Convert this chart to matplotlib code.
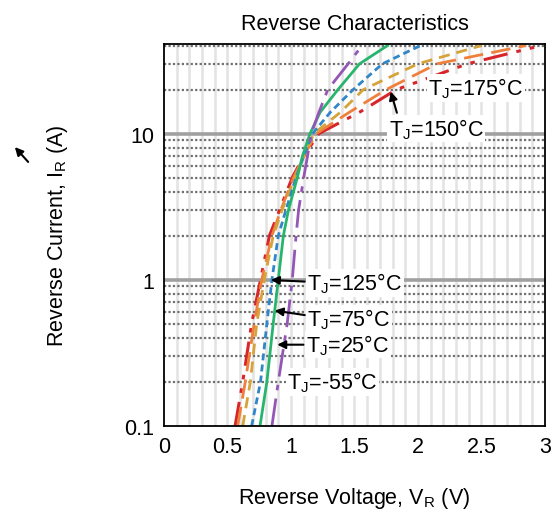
import numpy as np
import matplotlib
matplotlib.use("Agg")
import matplotlib.pyplot as plt

plt.rcParams['font.family'] = ['Liberation Sans', 'DejaVu Sans']
plt.rcParams['mathtext.fontset'] = 'custom'
plt.rcParams['mathtext.rm'] = 'Liberation Sans'

# Reverse current levels (A) at which the voltage of each curve was read
current = [0.1, 0.2, 0.5, 1, 2, 3, 5, 7, 10, 14, 20, 30, 40]

# Reverse voltage (V) for each junction temperature
v_175 = [0.56, 0.62, 0.69, 0.76, 0.83, 0.91, 1.01, 1.10, 1.22, 1.54, 1.83, 2.39, 2.97]
v_150 = [0.58, 0.64, 0.71, 0.77, 0.85, 0.92, 1.02, 1.10, 1.20, 1.46, 1.75, 2.15, 2.85]
v_125 = [0.62, 0.68, 0.73, 0.79, 0.86, 0.93, 1.03, 1.10, 1.18, 1.39, 1.57, 2.00, 2.50]
v_75 = [0.69, 0.76, 0.81, 0.85, 0.90, 0.96, 1.04, 1.10, 1.17, 1.31, 1.49, 1.72, 2.02]
v_25 = [0.756, 0.81, 0.86, 0.90, 0.94, 0.98, 1.05, 1.09, 1.15, 1.23, 1.37, 1.54, 1.76]
v_m55 = [0.85, 0.90, 0.97, 1.01, 1.04, 1.06, 1.10, 1.13, 1.16, 1.22, 1.29, 1.45, 1.56]

xticks = [0, 0.5, 1, 1.5, 2, 2.5, 3]
xticklabels = ['0', '0.5', '1', '1.5', '2', '2.5', '3']
yticks = [0.1, 1, 10]
yticklabels = ['0.1', '1', '10']

fig = plt.figure(figsize=(5.57, 5.10), dpi=100)
ax = fig.add_axes([0.2944, 0.1627, 0.684, 0.7491])

# grid: light verticals every 0.1 V, dotted minor horizontals, solid decades
for x in np.arange(0.1, 3.0, 0.1):
  ax.axvline(x, color='#e3e3e3', lw=1.8, zorder=0)
for dec in [0.1, 1, 10]:
  for m in range(2, 10):
    y = dec*m
    if y < 41:
      ax.axhline(y, color='#707070', lw=1.6, ls=(0, (1, 1)), zorder=1)
for y in [1, 10]:
  ax.axhline(y, color='#a0a0a0', lw=2.6, zorder=1)

ax.plot(v_175, current, color='#d7262b', lw=2.2, ls=(0, (8, 3, 1.5, 3, 1.5, 3)), zorder=3)
ax.plot(v_150, current, color='#f07f3c', lw=2.0, ls=(0, (7, 3)), zorder=3)
ax.plot(v_125, current, color='#d6a23a', lw=2.0, ls=(0, (4, 2.5)), zorder=3)
ax.plot(v_75, current, color='#2f86c8', lw=2.0, ls=(0, (2.5, 1.5)), zorder=3)
ax.plot(v_25, current, color='#27b56e', lw=2.0, ls='-', zorder=3)
ax.plot(v_m55, current, color='#9457b6', lw=2.0, ls=(0, (10, 3, 2, 3)), zorder=3)

ax.set_yscale('log')
ax.set_xlim(0, 3)
ax.set_ylim(0.1, 41)
ax.set_xticks(xticks)
ax.set_xticklabels(xticklabels)
ax.set_yticks(yticks)
ax.set_yticklabels(yticklabels)
ax.yaxis.set_minor_locator(matplotlib.ticker.NullLocator())
ax.tick_params(length=0, labelsize=15.5, pad=7)
for s in ax.spines.values():
  s.set_linewidth(1.3)
  s.set_zorder(5)

ax.set_title('Reverse Characteristics', fontsize=15.5, pad=11)
ax.set_xlabel(r'Reverse Voltage, V$_\mathregular{R}$ (V)', fontsize=15.5, labelpad=20)
ax.set_ylabel(r'Reverse Current, I$_\mathregular{R}$ (A)', fontsize=15.5, labelpad=39)

bbox = dict(facecolor='white', edgecolor='none', pad=1)
lab = dict(fontsize=15.5, va='center', ha='left', bbox=bbox, zorder=6)
ax.text(2.08, 20.5, r'T$_\mathregular{J}$=175°C', **lab)
ax.text(1.77, 10.8, r'T$_\mathregular{J}$=150°C', **lab)
ax.text(1.13, 0.95, r'T$_\mathregular{J}$=125°C', **lab)
ax.text(1.13, 0.54, r'T$_\mathregular{J}$=75°C', **lab)
ax.text(1.12, 0.36, r'T$_\mathregular{J}$=25°C', **lab)
ax.text(0.97, 0.2, r'T$_\mathregular{J}$=-55°C', **lab)

arr = dict(arrowstyle='-|>', color='black', lw=1.5, mutation_scale=12)
ax.annotate('', xy=(1.78, 20.2), xytext=(1.84, 13.3), arrowprops=arr, zorder=7)
ax.annotate('', xy=(0.82, 1.0), xytext=(1.13, 0.97), arrowprops=arr, zorder=7)
ax.annotate('', xy=(0.85, 0.62), xytext=(1.13, 0.57), arrowprops=arr, zorder=7)
ax.annotate('', xy=(0.87, 0.36), xytext=(1.12, 0.36), arrowprops=arr, zorder=7)

# small arrow next to the y label
fig.patches.append(matplotlib.patches.FancyArrowPatch(
  (30/557, 1-165/510), (13/557, 1-146/510), transform=fig.transFigure,
  arrowstyle='-|>', mutation_scale=12, color='black', lw=1.5))

fig.savefig('out.png', dpi=100)
